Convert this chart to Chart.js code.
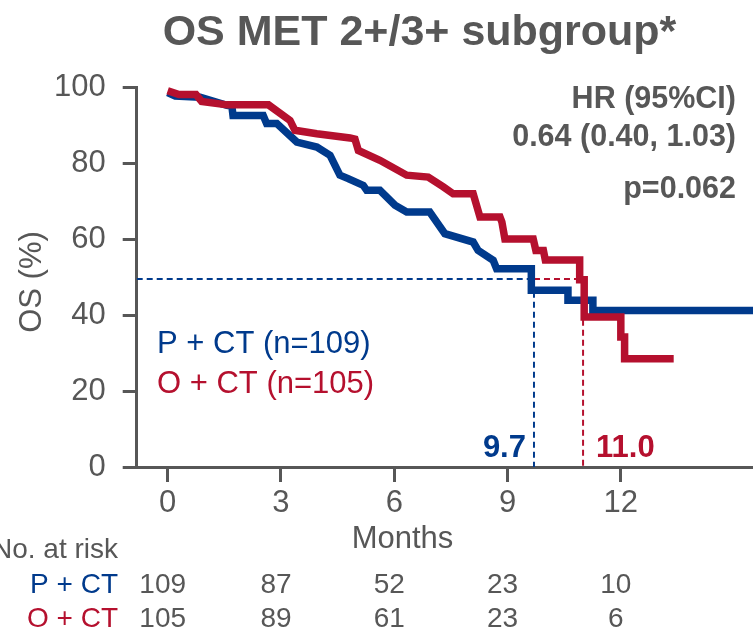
<!DOCTYPE html>
<html lang="en">
<head>
<meta charset="UTF-8">
<title>OS MET 2+/3+ subgroup</title>
<script src="https://cdn.jsdelivr.net/npm/chart.js"></script>
<style>
    html, body { margin: 0; padding: 0; background: #fff; }
    canvas { display: block; }
</style>
</head>
<body>
<canvas id="osChart" width="753" height="631"></canvas>
<script>
    // KM curve vertices: month and OS (%)
    var pctMonths = [0, 0.2, 0.86, 1.57, 1.7, 1.73, 2.53, 2.62, 2.89, 3.42, 3.95, 4.3, 4.56, 4.78, 5.18, 5.27, 5.62, 6.02, 6.33, 6.94, 7.34, 8.09, 8.22, 8.62, 8.71, 9.63, 9.63, 10.6, 10.6, 11.26, 11.26, 15.5];
    var pctOs = [98.5, 97.6, 97.3, 95.2, 95.0, 92.5, 92.5, 90.4, 90.4, 85.5, 84.2, 82.0, 76.8, 75.9, 74.1, 72.8, 72.8, 68.9, 67.1, 67.1, 61.4, 59.2, 57.0, 54.4, 52.2, 52.2, 46.5, 46.5, 43.9, 43.9, 41.2, 41.2];
    var octMonths = [0, 0.3, 0.75, 0.9, 1.57, 2.67, 3.24, 3.37, 3.95, 4.83, 4.96, 5.05, 5.62, 6.33, 6.9, 7.3, 7.56, 8.09, 8.27, 8.8, 8.85, 8.93, 9.68, 9.75, 9.95, 10.0, 10.91, 10.91, 11.03, 11.03, 12.0, 12.0, 12.1, 12.1, 13.4];
    var octOs = [99.0, 98.0, 98.0, 96.2, 95.3, 95.3, 91.2, 88.6, 87.7, 86.6, 86.3, 83.3, 80.7, 76.8, 76.3, 73.7, 71.9, 71.9, 65.8, 65.8, 64.5, 60.0, 60.0, 57.0, 57.0, 54.5, 54.5, 49.3, 49.3, 39.5, 39.5, 34.2, 34.2, 28.5, 28.5];

    var groupNames = ['P + CT', 'O + CT'];
    var groupN = [109, 105];
    var medianMonths = [9.7, 11.0];
    var medianLevel = 49.5;

    var xTicks = [0, 3, 6, 9, 12];
    var yTicks = [0, 20, 40, 60, 80, 100];
    var riskPct = [109, 87, 52, 23, 10];
    var riskOct = [105, 89, 61, 23, 6];
    var hrLines = ['HR (95%CI)', '0.64 (0.40, 1.03)', 'p=0.062'];
    var chartTitle = 'OS MET 2+/3+ subgroup*';

    var blue = '#003a8c';
    var red = '#b5102e';
    var gray = '#575757';
    var fam = '"Liberation Sans", Arial, sans-serif';
    var xMin = -0.82, xMax = 15.5;

    function toPoints(xs, ys) {
        return xs.map(function (x, i) { return { x: x, y: ys[i] }; });
    }

    // all free text: title, axis titles, legend, HR box, medians, risk table
    var textPlugin = {
        id: 'osText',
        afterDraw: function (chart) {
            var c = chart.ctx;
            var xs = chart.scales.x;
            c.save();
            c.fillStyle = gray;
            c.textBaseline = 'alphabetic';

            c.textAlign = 'center';
            c.font = 'bold 43px ' + fam;
            c.fillText(chartTitle, 419.5, 45);

            c.font = '31px ' + fam;
            c.fillText('Months', 402.5, 548);
            c.save();
            c.translate(41, 282);
            c.rotate(-Math.PI / 2);
            c.fillText('OS (%)', 0, 0);
            c.restore();

            // legend
            c.textAlign = 'left';
            c.fillStyle = blue;
            c.fillText(groupNames[0] + ' (n=' + groupN[0] + ')', 157, 353);
            c.fillStyle = red;
            c.fillText(groupNames[1] + ' (n=' + groupN[1] + ')', 157, 393);

            // hazard ratio
            c.fillStyle = gray;
            c.textAlign = 'right';
            c.font = 'bold 30.5px ' + fam;
            c.fillText(hrLines[0], 736, 108);
            c.fillText(hrLines[1], 736, 146);
            c.fillText(hrLines[2], 736, 198);

            // median labels
            c.font = 'bold 31px ' + fam;
            c.fillStyle = blue;
            c.textAlign = 'right';
            c.fillText(medianMonths[0].toFixed(1), xs.getPixelForValue(medianMonths[0]) - 8, 457);
            c.fillStyle = red;
            c.textAlign = 'left';
            c.fillText(medianMonths[1].toFixed(1), xs.getPixelForValue(medianMonths[1]) + 13, 457);

            // number at risk
            c.font = '28px ' + fam;
            c.textAlign = 'right';
            c.fillStyle = gray;
            c.fillText('No. at risk', 118, 558);
            c.fillStyle = blue;
            c.fillText(groupNames[0], 118, 593);
            c.fillStyle = red;
            c.fillText(groupNames[1], 118, 627);
            c.fillStyle = gray;
            c.textAlign = 'center';
            for (var i = 0; i < xTicks.length; i++) {
                var px = xs.getPixelForValue(xTicks[i]) - 5;
                c.fillText(String(riskPct[i]), px, 593);
                c.fillText(String(riskOct[i]), px, 627);
            }
            c.restore();
        }
    };

    var ctx = document.getElementById('osChart').getContext('2d');
    var osChart = new Chart(ctx, {
        type: 'line',
        data: {
            datasets: [{
                label: groupNames[1],
                data: toPoints(octMonths, octOs),
                borderColor: red,
                borderWidth: 7.5,
                borderJoinStyle: 'miter',
                pointRadius: 0,
                tension: 0,
                fill: false,
                order: 0
            }, {
                label: groupNames[0],
                data: toPoints(pctMonths, pctOs),
                borderColor: blue,
                borderWidth: 7.5,
                borderJoinStyle: 'miter',
                pointRadius: 0,
                tension: 0,
                fill: false,
                order: 1
            }, {
                label: 'median ' + groupNames[0],
                data: [{ x: xMin, y: medianLevel }, { x: medianMonths[0], y: medianLevel }, { x: medianMonths[0], y: 0 }],
                borderColor: blue,
                borderWidth: 2,
                borderDash: [6, 4],
                pointRadius: 0,
                fill: false,
                order: 2
            }, {
                label: 'median ' + groupNames[1],
                data: [{ x: medianMonths[0], y: medianLevel }, { x: medianMonths[1], y: medianLevel }, { x: medianMonths[1], y: 0 }],
                borderColor: red,
                borderWidth: 2,
                borderDash: [6, 4],
                pointRadius: 0,
                fill: false,
                order: 3
            }]
        },
        options: {
            responsive: false,
            animation: false,
            layout: { padding: { top: 87, left: 0, right: 0, bottom: 0 } },
            plugins: {
                legend: { display: false },
                tooltip: { enabled: false },
                title: { display: false }
            },
            scales: {
                x: {
                    type: 'linear',
                    min: xMin,
                    max: xMax,
                    afterBuildTicks: function (s) { s.ticks = xTicks.map(function (v) { return { value: v }; }); },
                    afterFit: function (s) { s.height = 164; },
                    grid: { drawOnChartArea: false, tickLength: 15, tickWidth: 3, tickColor: gray },
                    border: { color: gray, width: 3 },
                    ticks: { color: gray, font: { family: fam, size: 31 }, padding: 3, autoSkip: false, maxRotation: 0 }
                },
                y: {
                    min: 0,
                    max: 100,
                    afterBuildTicks: function (s) { s.ticks = yTicks.map(function (v) { return { value: v }; }); },
                    afterFit: function (s) { s.width = 136.7; },
                    grid: { drawOnChartArea: false, tickLength: 14, tickWidth: 3, tickColor: gray },
                    border: { color: gray, width: 3 },
                    ticks: { color: gray, font: { family: fam, size: 31 }, padding: 17 }
                }
            }
        },
        plugins: [textPlugin]
    });
</script>
</body>
</html>
